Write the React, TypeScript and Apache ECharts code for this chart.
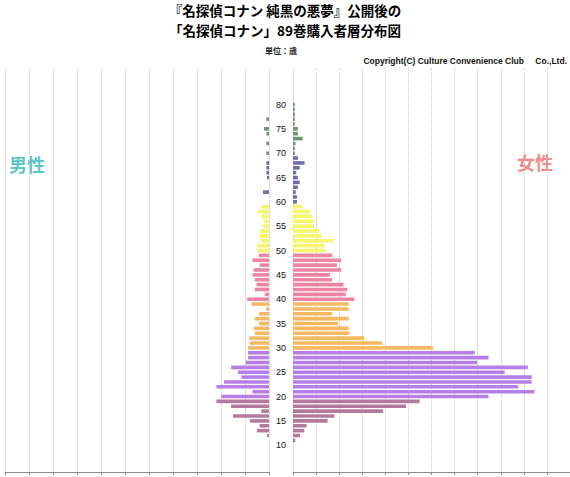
import React, { useEffect, useRef } from "react";
import * as echarts from "echarts";

// Ages 10..80 (one bar per age)
const FIRST_AGE = 10;
// Axis category range (empty padding categories above/below the data)
const AXIS_MIN_AGE = 5;
const AXIS_MAX_AGE = 87;
const tickAges = [10, 15, 20, 25, 30, 35, 40, 45, 50, 55, 60, 65, 70, 75, 80];

const titleLines = ["『名探偵コナン 純黒の悪夢』公開後の", "「名探偵コナン」89巻購入者層分布図"];

// Male values, ages 10..80 (grid units)
const maleValues = [
  0, 0, 0.08, 0.5, 0.39, 0.8, 1.5, 0.32, 1.58, 2.19, // 10-19
  1.98, 0.69, 2.19, 1.88, 1.15, 1.29, 1.58, 0.97, 0.87, 0.87, // 20-29
  0.87, 0.8, 0.83, 0.59, 0.64, 0.42, 0.59, 0.42, 0.12, 0.73, // 30-39
  0.91, 0.18, 0.59, 0.52, 0.59, 0.69, 0.64, 0.39, 0.69, 0.42, // 40-49
  0.5, 0.5, 0.33, 0.42, 0.37, 0.25, 0.21, 0.33, 0.46, 0.33, // 50-59
  0, 0, 0.25, 0, 0, 0.08, 0.11, 0.11, 0.11, 0, // 60-69
  0.11, 0, 0.11, 0, 0.11, 0.21, 0, 0.11, 0, 0, // 70-79
  0, // 80
];

// Female values, ages 10..80 (grid units)
const femaleValues = [
  0, 0.1, 0.3, 0.49, 0.59, 1.5, 1.79, 3.9, 4.9, 5.49, // 10-19
  8.47, 10.46, 9.75, 10.34, 10.34, 9.17, 10.17, 7.97, 8.47, 7.88, // 20-29
  6.07, 3.87, 3.08, 2.45, 2.41, 1.95, 2.41, 1.7, 2.41, 2.41, // 30-39
  2.66, 2.29, 2.36, 2.19, 1.69, 1.6, 2.09, 1.91, 2.09, 1.7, // 40-49
  1.41, 1.37, 1.75, 1.25, 1.12, 0.91, 0.91, 0.83, 0.75, 0.42, // 50-59
  0.17, 0.17, 0.12, 0.21, 0.29, 0.21, 0.14, 0.29, 0.5, 0.21, // 60-69
  0.08, 0.08, 0.11, 0.42, 0.21, 0.21, 0.08, 0.08, 0.08, 0.08, // 70-79
  0.08, // 80
];

// Colour per decade: 10s, 20s, 30s, 40s, 50s, 60s, 70s, 80s
const decadeColors = [
  "#b47a9e",
  "#b87ee8",
  "#f6b862",
  "#ee84a4",
  "#f6f56c",
  "#6c6cb0",
  "#6e9470",
  "#8088a8",
];

const colorFor = (age: number) => decadeColors[Math.min(Math.floor(age / 10) - 1, decadeColors.length - 1)];

export default function App() {
  const ref = useRef<HTMLDivElement>(null);

  useEffect(() => {
    document.body.style.margin = "0";
    if (!ref.current) return;
    const chart = echarts.init(ref.current, null, { renderer: "svg" });

    const cats: string[] = [];
    for (let a = AXIS_MIN_AGE; a <= AXIS_MAX_AGE; a++) cats.push(String(a));

    const build = (vals: number[]) =>
      cats.map((c) => {
        const a = Number(c);
        const i = a - FIRST_AGE;
        if (i < 0 || i >= vals.length) return null;
        return { value: vals[i], itemStyle: { color: colorFor(a) } };
      });

    const gridTop = 68;
    const gridHeight = 404;
    const axisColor = "#8c8c8c";
    const splitColor = "#c4c4c4";

    const valueAxisBase = {
      type: "value" as const,
      min: 0,
      interval: 1,
      axisLabel: { show: false },
      axisLine: { show: true, onZero: false, lineStyle: { color: axisColor, width: 1 } },
      axisTick: { show: true, length: 3, lineStyle: { color: axisColor } },
      splitLine: { show: true, lineStyle: { color: splitColor, type: "dotted" as const, width: 1 } },
    };

    const titleStyle = {
      fontFamily: "Noto Sans CJK JP",
      fontSize: 13.5,
      fontWeight: "bold" as const,
      fill: "#000000",
      align: "center" as const,
      verticalAlign: "middle" as const,
    };

    chart.setOption({
      animation: false,
      backgroundColor: "#ffffff",
      grid: [
        { left: 5, top: gridTop, width: 264, height: gridHeight },
        { left: 293, top: gridTop, width: 289, height: gridHeight },
      ],
      xAxis: [
        { ...valueAxisBase, gridIndex: 0, max: 11, inverse: true },
        { ...valueAxisBase, gridIndex: 1, max: 12 },
      ],
      yAxis: [
        {
          gridIndex: 0,
          type: "category",
          data: cats,
          axisLine: { show: false },
          axisTick: { show: false },
          axisLabel: { show: false },
        },
        {
          gridIndex: 1,
          type: "category",
          data: cats,
          axisLine: { show: false },
          axisTick: { show: false },
          axisLabel: {
            show: true,
            interval: (_i: number, v: string) => tickAges.includes(Number(v)),
            margin: 7,
            fontSize: 9,
            fontFamily: "Arial, Liberation Sans",
            color: "#111111",
          },
        },
      ],
      series: [
        {
          name: "男性",
          type: "bar",
          xAxisIndex: 0,
          yAxisIndex: 0,
          barWidth: "74%",
          data: build(maleValues),
        },
        {
          name: "女性",
          type: "bar",
          xAxisIndex: 1,
          yAxisIndex: 1,
          barWidth: "74%",
          data: build(femaleValues),
        },
      ],
      graphic: [
        { type: "text", x: 285, y: 10, style: { ...titleStyle, text: titleLines[0] } },
        { type: "text", x: 285, y: 30, style: { ...titleStyle, text: titleLines[1] } },
        {
          type: "text",
          x: 281,
          y: 50,
          style: {
            text: "単位：歳",
            fontFamily: "Noto Sans CJK JP",
            fontSize: 8,
            fontWeight: "bold",
            fill: "#222222",
            align: "center",
            verticalAlign: "middle",
          },
        },
        {
          type: "text",
          x: 567,
          y: 61,
          style: {
            text: "Copyright(C) Culture Convenience Club　 Co.,Ltd.",
            fontFamily: "Arial, Liberation Sans",
            fontSize: 8.5,
            fontWeight: "bold",
            fill: "#111111",
            align: "right",
            verticalAlign: "middle",
          },
        },
        {
          type: "text",
          x: 27,
          y: 164,
          style: {
            text: "男性",
            fontFamily: "Noto Sans CJK JP",
            fontSize: 18,
            fontWeight: "bold",
            fill: "#5cc6c6",
            align: "center",
            verticalAlign: "middle",
          },
        },
        {
          type: "text",
          x: 535,
          y: 162,
          style: {
            text: "女性",
            fontFamily: "Noto Sans CJK JP",
            fontSize: 18,
            fontWeight: "bold",
            fill: "#f08a8a",
            align: "center",
            verticalAlign: "middle",
          },
        },
      ],
    });

    return () => chart.dispose();
  }, []);

  return <div ref={ref} style={{ width: 570, height: 477, overflow: "hidden" }} />;
}
